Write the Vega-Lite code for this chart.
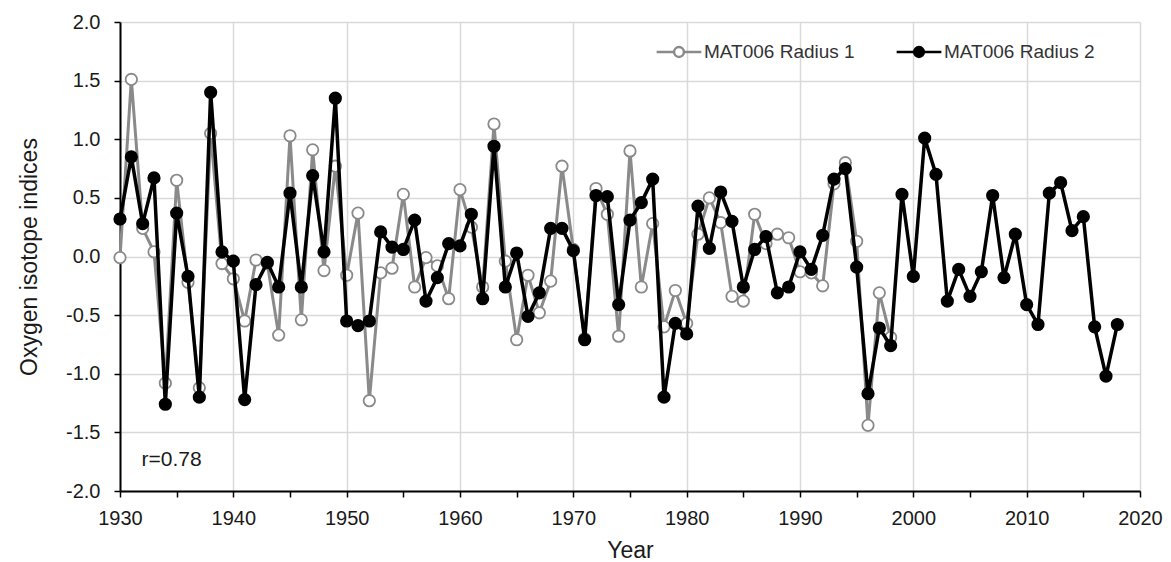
{
  "$schema": "https://vega.github.io/schema/vega-lite/v6.json",
  "width": 1020,
  "height": 469,
  "autosize": {"type": "none"},
  "padding": {"left": 120, "top": 22, "right": 31, "bottom": 71},
  "background": "white",
  "config": {
    "view": {"stroke": null},
    "font": "Liberation Sans",
    "axis": {
      "labelFont": "Liberation Sans",
      "titleFont": "Liberation Sans",
      "labelFontSize": 20,
      "titleFontSize": 23,
      "titleFontWeight": "normal",
      "labelColor": "#1a1a1a",
      "titleColor": "#1a1a1a",
      "domainColor": "#000000",
      "domainWidth": 2,
      "tickColor": "#000000",
      "tickWidth": 1.5,
      "tickSize": 6,
      "gridColor": "#d9d9d9",
      "gridWidth": 1.5,
      "labelFlush": false
    },
    "legend": {
      "labelFont": "Liberation Sans",
      "labelFontSize": 19,
      "labelColor": "#333333",
      "title": null,
      "orient": "none",
      "legendX": 535,
      "legendY": 6,
      "direction": "horizontal",
      "padding": 0,
      "columnPadding": 36,
      "labelOffset": 1,
      "symbolType": "M-1,0H-0.22M0.22,0H1M0.22,0A0.22,0.22,0,1,1,-0.22,0A0.22,0.22,0,1,1,0.22,0",
      "symbolSize": 2000,
      "symbolStrokeWidth": 2.5
    }
  },
  "data": {"values": [
    {"year":1930,"s":"MAT006 Radius 1","v":-0.01},{"year":1931,"s":"MAT006 Radius 1","v":1.51},{"year":1932,"s":"MAT006 Radius 1","v":0.24},{"year":1933,"s":"MAT006 Radius 1","v":0.04},{"year":1934,"s":"MAT006 Radius 1","v":-1.08},{"year":1935,"s":"MAT006 Radius 1","v":0.65},{"year":1936,"s":"MAT006 Radius 1","v":-0.22},{"year":1937,"s":"MAT006 Radius 1","v":-1.12},{"year":1938,"s":"MAT006 Radius 1","v":1.05},{"year":1939,"s":"MAT006 Radius 1","v":-0.06},
    {"year":1940,"s":"MAT006 Radius 1","v":-0.19},{"year":1941,"s":"MAT006 Radius 1","v":-0.55},{"year":1942,"s":"MAT006 Radius 1","v":-0.03},{"year":1943,"s":"MAT006 Radius 1","v":-0.06},{"year":1944,"s":"MAT006 Radius 1","v":-0.67},{"year":1945,"s":"MAT006 Radius 1","v":1.03},{"year":1946,"s":"MAT006 Radius 1","v":-0.54},{"year":1947,"s":"MAT006 Radius 1","v":0.91},{"year":1948,"s":"MAT006 Radius 1","v":-0.12},{"year":1949,"s":"MAT006 Radius 1","v":0.77},
    {"year":1950,"s":"MAT006 Radius 1","v":-0.16},{"year":1951,"s":"MAT006 Radius 1","v":0.37},{"year":1952,"s":"MAT006 Radius 1","v":-1.23},{"year":1953,"s":"MAT006 Radius 1","v":-0.14},{"year":1954,"s":"MAT006 Radius 1","v":-0.10},{"year":1955,"s":"MAT006 Radius 1","v":0.53},{"year":1956,"s":"MAT006 Radius 1","v":-0.26},{"year":1957,"s":"MAT006 Radius 1","v":-0.01},{"year":1958,"s":"MAT006 Radius 1","v":-0.08},{"year":1959,"s":"MAT006 Radius 1","v":-0.36},
    {"year":1960,"s":"MAT006 Radius 1","v":0.57},{"year":1961,"s":"MAT006 Radius 1","v":0.25},{"year":1962,"s":"MAT006 Radius 1","v":-0.26},{"year":1963,"s":"MAT006 Radius 1","v":1.13},{"year":1964,"s":"MAT006 Radius 1","v":-0.04},{"year":1965,"s":"MAT006 Radius 1","v":-0.71},{"year":1966,"s":"MAT006 Radius 1","v":-0.16},{"year":1967,"s":"MAT006 Radius 1","v":-0.48},{"year":1968,"s":"MAT006 Radius 1","v":-0.21},{"year":1969,"s":"MAT006 Radius 1","v":0.77},
    {"year":1970,"s":"MAT006 Radius 1","v":0.06},{"year":1971,"s":"MAT006 Radius 1","v":-0.70},{"year":1972,"s":"MAT006 Radius 1","v":0.58},{"year":1973,"s":"MAT006 Radius 1","v":0.36},{"year":1974,"s":"MAT006 Radius 1","v":-0.68},{"year":1975,"s":"MAT006 Radius 1","v":0.90},{"year":1976,"s":"MAT006 Radius 1","v":-0.26},{"year":1977,"s":"MAT006 Radius 1","v":0.28},{"year":1978,"s":"MAT006 Radius 1","v":-0.60},{"year":1979,"s":"MAT006 Radius 1","v":-0.29},
    {"year":1980,"s":"MAT006 Radius 1","v":-0.57},{"year":1981,"s":"MAT006 Radius 1","v":0.19},{"year":1982,"s":"MAT006 Radius 1","v":0.50},{"year":1983,"s":"MAT006 Radius 1","v":0.29},{"year":1984,"s":"MAT006 Radius 1","v":-0.34},{"year":1985,"s":"MAT006 Radius 1","v":-0.38},{"year":1986,"s":"MAT006 Radius 1","v":0.36},{"year":1987,"s":"MAT006 Radius 1","v":0.11},{"year":1988,"s":"MAT006 Radius 1","v":0.19},{"year":1989,"s":"MAT006 Radius 1","v":0.16},
    {"year":1990,"s":"MAT006 Radius 1","v":-0.13},{"year":1991,"s":"MAT006 Radius 1","v":-0.14},{"year":1992,"s":"MAT006 Radius 1","v":-0.25},{"year":1993,"s":"MAT006 Radius 1","v":0.62},{"year":1994,"s":"MAT006 Radius 1","v":0.80},{"year":1995,"s":"MAT006 Radius 1","v":0.13},{"year":1996,"s":"MAT006 Radius 1","v":-1.44},{"year":1997,"s":"MAT006 Radius 1","v":-0.31},{"year":1998,"s":"MAT006 Radius 1","v":-0.69},
    {"year":1930,"s":"MAT006 Radius 2","v":0.32},{"year":1931,"s":"MAT006 Radius 2","v":0.85},{"year":1932,"s":"MAT006 Radius 2","v":0.28},{"year":1933,"s":"MAT006 Radius 2","v":0.67},{"year":1934,"s":"MAT006 Radius 2","v":-1.26},{"year":1935,"s":"MAT006 Radius 2","v":0.37},{"year":1936,"s":"MAT006 Radius 2","v":-0.17},{"year":1937,"s":"MAT006 Radius 2","v":-1.20},{"year":1938,"s":"MAT006 Radius 2","v":1.40},{"year":1939,"s":"MAT006 Radius 2","v":0.04},
    {"year":1940,"s":"MAT006 Radius 2","v":-0.04},{"year":1941,"s":"MAT006 Radius 2","v":-1.22},{"year":1942,"s":"MAT006 Radius 2","v":-0.24},{"year":1943,"s":"MAT006 Radius 2","v":-0.05},{"year":1944,"s":"MAT006 Radius 2","v":-0.26},{"year":1945,"s":"MAT006 Radius 2","v":0.54},{"year":1946,"s":"MAT006 Radius 2","v":-0.26},{"year":1947,"s":"MAT006 Radius 2","v":0.69},{"year":1948,"s":"MAT006 Radius 2","v":0.04},{"year":1949,"s":"MAT006 Radius 2","v":1.35},
    {"year":1950,"s":"MAT006 Radius 2","v":-0.55},{"year":1951,"s":"MAT006 Radius 2","v":-0.59},{"year":1952,"s":"MAT006 Radius 2","v":-0.55},{"year":1953,"s":"MAT006 Radius 2","v":0.21},{"year":1954,"s":"MAT006 Radius 2","v":0.08},{"year":1955,"s":"MAT006 Radius 2","v":0.06},{"year":1956,"s":"MAT006 Radius 2","v":0.31},{"year":1957,"s":"MAT006 Radius 2","v":-0.38},{"year":1958,"s":"MAT006 Radius 2","v":-0.18},{"year":1959,"s":"MAT006 Radius 2","v":0.11},
    {"year":1960,"s":"MAT006 Radius 2","v":0.09},{"year":1961,"s":"MAT006 Radius 2","v":0.36},{"year":1962,"s":"MAT006 Radius 2","v":-0.36},{"year":1963,"s":"MAT006 Radius 2","v":0.94},{"year":1964,"s":"MAT006 Radius 2","v":-0.26},{"year":1965,"s":"MAT006 Radius 2","v":0.03},{"year":1966,"s":"MAT006 Radius 2","v":-0.51},{"year":1967,"s":"MAT006 Radius 2","v":-0.31},{"year":1968,"s":"MAT006 Radius 2","v":0.24},{"year":1969,"s":"MAT006 Radius 2","v":0.24},
    {"year":1970,"s":"MAT006 Radius 2","v":0.05},{"year":1971,"s":"MAT006 Radius 2","v":-0.71},{"year":1972,"s":"MAT006 Radius 2","v":0.52},{"year":1973,"s":"MAT006 Radius 2","v":0.51},{"year":1974,"s":"MAT006 Radius 2","v":-0.41},{"year":1975,"s":"MAT006 Radius 2","v":0.31},{"year":1976,"s":"MAT006 Radius 2","v":0.46},{"year":1977,"s":"MAT006 Radius 2","v":0.66},{"year":1978,"s":"MAT006 Radius 2","v":-1.20},{"year":1979,"s":"MAT006 Radius 2","v":-0.57},
    {"year":1980,"s":"MAT006 Radius 2","v":-0.66},{"year":1981,"s":"MAT006 Radius 2","v":0.43},{"year":1982,"s":"MAT006 Radius 2","v":0.07},{"year":1983,"s":"MAT006 Radius 2","v":0.55},{"year":1984,"s":"MAT006 Radius 2","v":0.30},{"year":1985,"s":"MAT006 Radius 2","v":-0.26},{"year":1986,"s":"MAT006 Radius 2","v":0.06},{"year":1987,"s":"MAT006 Radius 2","v":0.17},{"year":1988,"s":"MAT006 Radius 2","v":-0.31},{"year":1989,"s":"MAT006 Radius 2","v":-0.26},
    {"year":1990,"s":"MAT006 Radius 2","v":0.04},{"year":1991,"s":"MAT006 Radius 2","v":-0.11},{"year":1992,"s":"MAT006 Radius 2","v":0.18},{"year":1993,"s":"MAT006 Radius 2","v":0.66},{"year":1994,"s":"MAT006 Radius 2","v":0.75},{"year":1995,"s":"MAT006 Radius 2","v":-0.09},{"year":1996,"s":"MAT006 Radius 2","v":-1.17},{"year":1997,"s":"MAT006 Radius 2","v":-0.61},{"year":1998,"s":"MAT006 Radius 2","v":-0.76},{"year":1999,"s":"MAT006 Radius 2","v":0.53},
    {"year":2000,"s":"MAT006 Radius 2","v":-0.17},{"year":2001,"s":"MAT006 Radius 2","v":1.01},{"year":2002,"s":"MAT006 Radius 2","v":0.70},{"year":2003,"s":"MAT006 Radius 2","v":-0.38},{"year":2004,"s":"MAT006 Radius 2","v":-0.11},{"year":2005,"s":"MAT006 Radius 2","v":-0.34},{"year":2006,"s":"MAT006 Radius 2","v":-0.13},{"year":2007,"s":"MAT006 Radius 2","v":0.52},{"year":2008,"s":"MAT006 Radius 2","v":-0.18},{"year":2009,"s":"MAT006 Radius 2","v":0.19},
    {"year":2010,"s":"MAT006 Radius 2","v":-0.41},{"year":2011,"s":"MAT006 Radius 2","v":-0.58},{"year":2012,"s":"MAT006 Radius 2","v":0.54},{"year":2013,"s":"MAT006 Radius 2","v":0.63},{"year":2014,"s":"MAT006 Radius 2","v":0.22},{"year":2015,"s":"MAT006 Radius 2","v":0.34},{"year":2016,"s":"MAT006 Radius 2","v":-0.60},{"year":2017,"s":"MAT006 Radius 2","v":-1.02},{"year":2018,"s":"MAT006 Radius 2","v":-0.58}
  ]},
  "encoding": {
    "x": {
      "field": "year", "type": "quantitative",
      "scale": {"domain": [1930, 2020], "nice": false, "zero": false},
      "axis": {
        "title": "Year",
        "values": [1930,1935,1940,1945,1950,1955,1960,1965,1970,1975,1980,1985,1990,1995,2000,2005,2010,2015,2020],
        "labelExpr": "datum.value % 10 === 0 ? format(datum.value, 'd') : ''",
        "gridColor": {"condition": {"test": "datum.value % 10 === 0", "value": "#d9d9d9"}, "value": "transparent"},
        "labelPadding": 11,
        "titlePadding": 11,
        "grid": true
      }
    },
    "y": {
      "field": "v", "type": "quantitative",
      "scale": {"domain": [-2, 2], "nice": false},
      "axis": {
        "title": "Oxygen isotope indices",
        "values": [-2,-1.5,-1,-0.5,0,0.5,1,1.5,2],
        "labelExpr": "datum.value < 0 ? '-' + format(-datum.value, '.1f') : format(datum.value, '.1f')",
        "labelPadding": 14,
        "titlePadding": 24,
        "grid": true
      }
    }
  },
  "layer": [
    {
      "transform": [{"filter": "datum.s === 'MAT006 Radius 1'"}],
      "mark": {"type": "line", "strokeWidth": 3},
      "encoding": {
        "stroke": {"field": "s", "type": "nominal", "title": null, "scale": {"domain": ["MAT006 Radius 1","MAT006 Radius 2"], "range": ["#8a8a8a","#000000"]}}
      }
    },
    {
      "transform": [{"filter": "datum.s === 'MAT006 Radius 1'"}],
      "mark": {"type": "circle", "size": 130, "strokeWidth": 1.8, "opacity": 1},
      "encoding": {
        "stroke": {"field": "s", "type": "nominal", "title": null, "scale": {"domain": ["MAT006 Radius 1","MAT006 Radius 2"], "range": ["#8a8a8a","#000000"]}},
        "fill": {"field": "s", "type": "nominal", "title": null, "scale": {"domain": ["MAT006 Radius 1","MAT006 Radius 2"], "range": ["#ffffff","#000000"]}}
      }
    },
    {
      "transform": [{"filter": "datum.s === 'MAT006 Radius 2'"}],
      "mark": {"type": "line", "strokeWidth": 3.5},
      "encoding": {
        "stroke": {"field": "s", "type": "nominal", "title": null, "scale": {"domain": ["MAT006 Radius 1","MAT006 Radius 2"], "range": ["#8a8a8a","#000000"]}}
      }
    },
    {
      "transform": [{"filter": "datum.s === 'MAT006 Radius 2'"}],
      "mark": {"type": "circle", "size": 130, "strokeWidth": 1.8, "opacity": 1},
      "encoding": {
        "stroke": {"field": "s", "type": "nominal", "title": null, "scale": {"domain": ["MAT006 Radius 1","MAT006 Radius 2"], "range": ["#8a8a8a","#000000"]}},
        "fill": {"field": "s", "type": "nominal", "title": null, "scale": {"domain": ["MAT006 Radius 1","MAT006 Radius 2"], "range": ["#ffffff","#000000"]}}
      }
    },
    {
      "data": {"values": [{"year": 1931.9, "v": -1.735, "label": "r=0.78"}]},
      "mark": {"type": "text", "align": "left", "baseline": "middle", "fontSize": 21, "font": "Liberation Sans", "color": "#1a1a1a"},
      "encoding": {"text": {"field": "label"}}
    }
  ]
}
